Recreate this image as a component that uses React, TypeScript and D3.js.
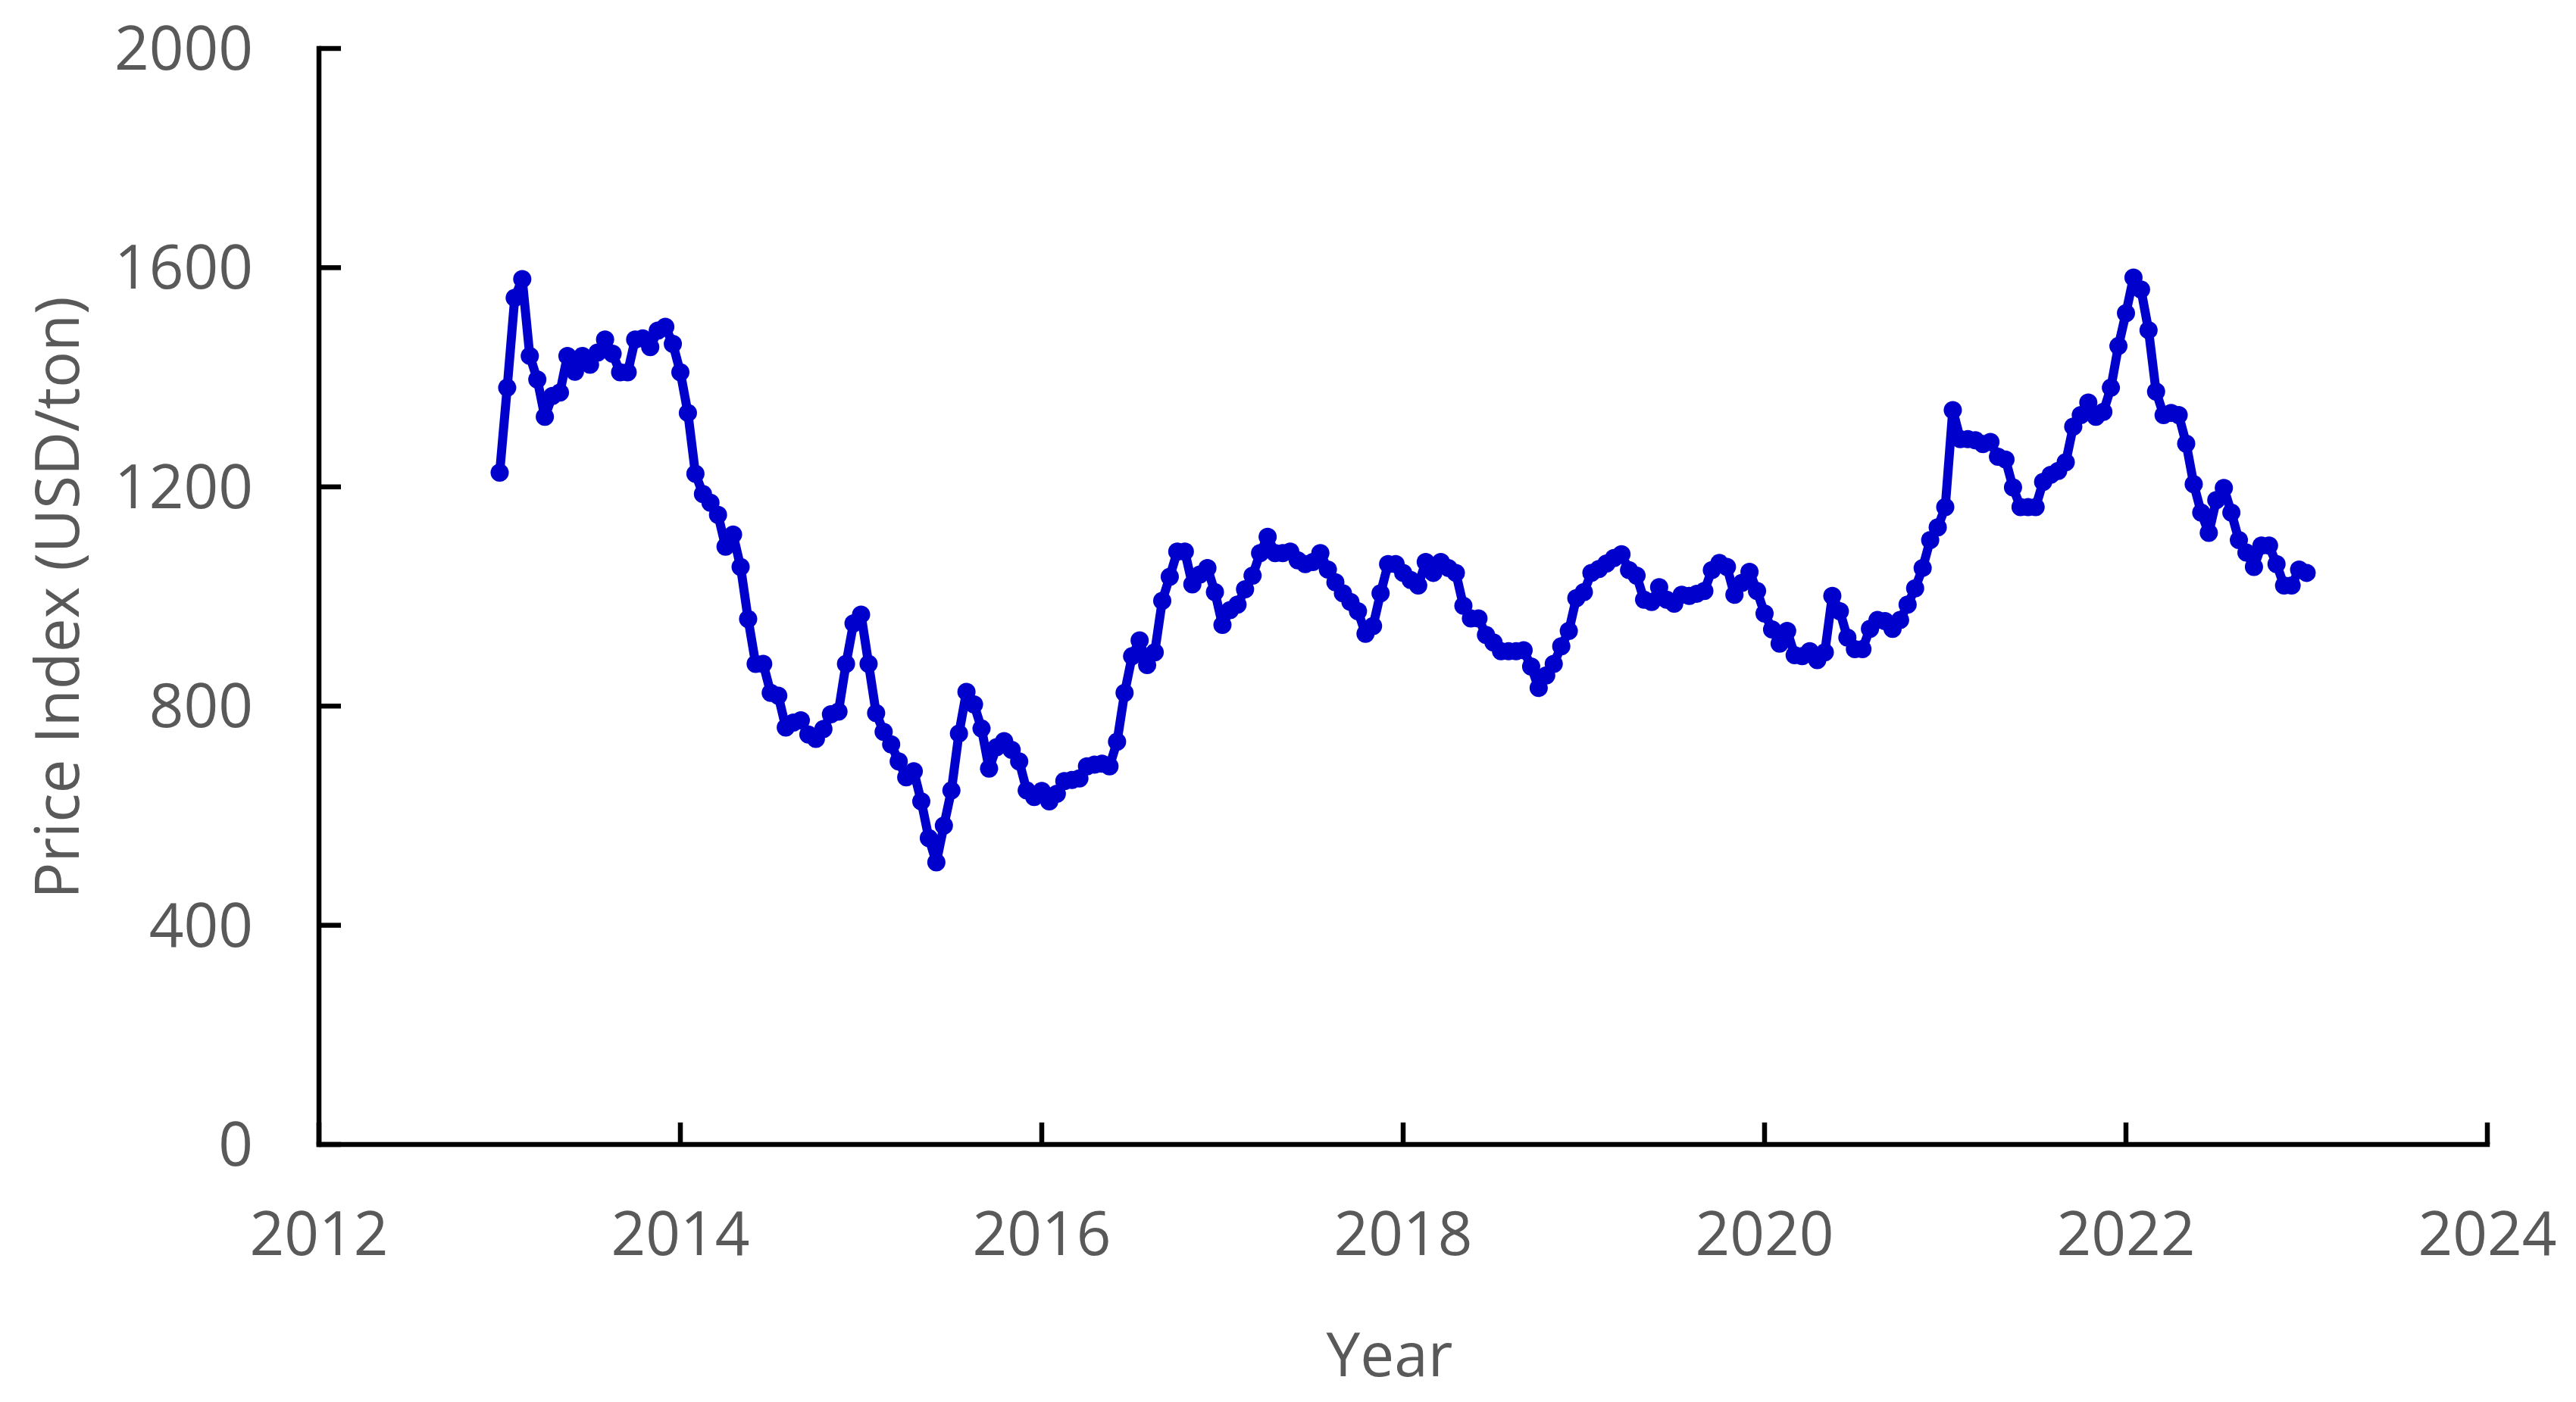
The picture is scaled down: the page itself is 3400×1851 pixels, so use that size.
import React from 'react';
import * as d3 from 'd3';

// Semi-monthly price index, starting January 2013
const startYear = 2013;
const periodsPerYear = 24;

const prices2013 = [1226, 1381, 1545, 1579, 1439, 1396, 1328, 1366, 1372, 1439, 1410, 1439, 1423, 1445, 1469, 1443, 1409, 1409, 1469, 1471, 1455, 1485, 1492, 1461, 1409];
const prices2014 = [1335, 1224, 1187, 1171, 1149, 1091, 1113, 1054, 959, 877, 877, 824, 819, 761, 770, 774, 748, 740, 758, 785, 790, 877, 951, 967];
const prices2015 = [877, 787, 753, 730, 699, 670, 681, 626, 559, 515, 582, 646, 750, 826, 803, 759, 686, 725, 736, 720, 699, 646, 634, 645];
const prices2016 = [626, 640, 663, 665, 668, 690, 693, 695, 690, 735, 824, 891, 920, 875, 898, 992, 1036, 1082, 1082, 1022, 1040, 1052, 1008, 948];
const prices2017 = [975, 985, 1013, 1038, 1079, 1109, 1079, 1079, 1082, 1066, 1059, 1063, 1079, 1049, 1026, 1006, 990, 973, 932, 946, 1006, 1059, 1059, 1043];
const prices2018 = [1030, 1020, 1063, 1043, 1063, 1052, 1043, 983, 960, 960, 930, 916, 900, 900, 900, 902, 872, 833, 856, 877, 909, 937, 997, 1008, 1043];
const prices2019 = [1050, 1060, 1070, 1077, 1048, 1038, 994, 990, 1017, 994, 987, 1003, 1001, 1005, 1010, 1048, 1061, 1054, 1003, 1025, 1045, 1010, 969, 940];
const prices2020 = [914, 937, 893, 891, 900, 884, 898, 1001, 973, 925, 904, 904, 941, 957, 955, 941, 957, 985, 1015, 1052, 1103, 1126, 1163, 1340];
const prices2021 = [1287, 1287, 1285, 1278, 1282, 1255, 1250, 1199, 1163, 1163, 1163, 1209, 1222, 1229, 1245, 1310, 1331, 1354, 1328, 1337, 1381, 1457, 1517, 1582];
const prices2022 = [1560, 1486, 1374, 1331, 1335, 1331, 1279, 1205, 1153, 1116, 1176, 1198, 1153, 1103, 1080, 1054, 1093, 1093, 1059, 1020, 1020, 1049, 1043];

const prices = [
  ...prices2013, ...prices2014, ...prices2015, ...prices2016, ...prices2017,
  ...prices2018, ...prices2019, ...prices2020, ...prices2021, ...prices2022,
];

const xTicks = [2012, 2014, 2016, 2018, 2020, 2022, 2024];
const yTicks = [0, 400, 800, 1200, 1600, 2000];

const xTitle = 'Year';
const yTitle = 'Price Index (USD/ton)';

export default function App() {
  const W = 3400;
  const H = 1851;
  const x = d3.scaleLinear().domain([2012, 2024]).range([421, 3283]);
  const y = d3.scaleLinear().domain([0, 2000]).range([1511, 64]);

  const data = prices.map((v, i) => ({ t: startYear + i / periodsPerYear, v }));
  const line = d3
    .line<{ t: number; v: number }>()
    .x((d) => x(d.t))
    .y((d) => y(d.v));

  const color = '#0000CC';
  const textColor = '#595959';
  const font = '"Open Sans", "Noto Sans", sans-serif';
  const axisW = 6.5;
  const tickLen = 29;

  return (
    <svg
      width={W}
      height={H}
      viewBox={`0 0 ${W} ${H}`}
      style={{ position: 'absolute', left: 0, top: 0, display: 'block', background: '#fff' }}
    >
      <rect x={0} y={0} width={W} height={H} fill="#fff" />
      {/* data line */}
      <path d={line(data) || ''} fill="none" stroke={color} strokeWidth={12} strokeLinejoin="round" />
      {data.map((d, i) => (
        <circle key={i} cx={x(d.t)} cy={y(d.v)} r={12} fill={color} />
      ))}

      {/* axes */}
      <line x1={x(2012)} x2={x(2012)} y1={y(2000) - axisW / 2} y2={y(0) + axisW / 2} stroke="#000" strokeWidth={axisW} />
      <line x1={x(2012) - axisW / 2} x2={x(2024) + axisW / 2} y1={y(0)} y2={y(0)} stroke="#000" strokeWidth={axisW} />
      {yTicks.map((t) => (
        <g key={'y' + t}>
          <line x1={x(2012)} x2={x(2012) + tickLen} y1={y(t)} y2={y(t)} stroke="#000" strokeWidth={axisW} />
          <text
            x={334}
            y={y(t) + 28}
            textAnchor="end"
            fontFamily={font}
            fontSize={80}
            fill={textColor}
          >
            {t}
          </text>
        </g>
      ))}
      {xTicks.map((t) => (
        <g key={'x' + t}>
          <line x1={x(t)} x2={x(t)} y1={y(0)} y2={y(0) - tickLen} stroke="#000" strokeWidth={axisW} />
          <text x={x(t)} y={1657} textAnchor="middle" fontFamily={font} fontSize={80} fill={textColor}>
            {t}
          </text>
        </g>
      ))}

      <text x={1834} y={1817} textAnchor="middle" fontFamily={font} fontSize={80} fill={textColor}>
        {xTitle}
      </text>
      <text
        transform={`translate(104, 789) rotate(-90)`}
        textAnchor="middle"
        fontFamily={font}
        fontSize={80}
        fill={textColor}
      >
        {yTitle}
      </text>
    </svg>
  );
}
